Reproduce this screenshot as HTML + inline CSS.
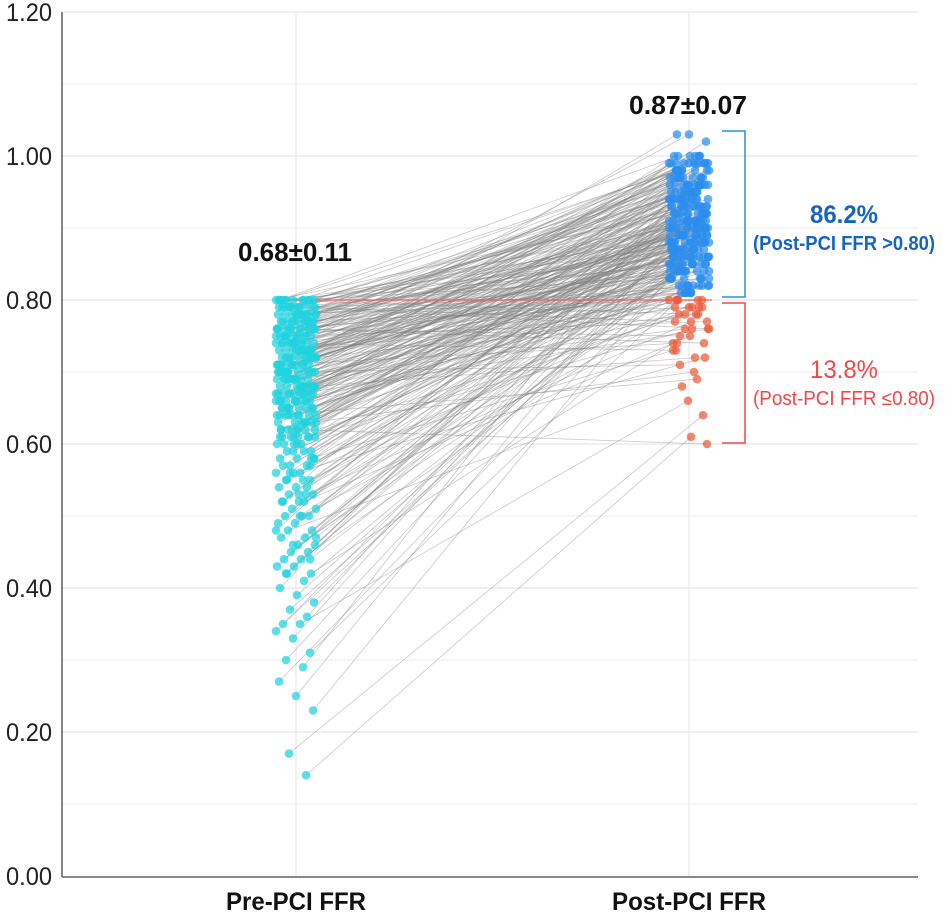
<!DOCTYPE html>
<html><head><meta charset="utf-8"><style>
html,body{margin:0;padding:0;background:#fff;}
svg{display:block;font-family:"Liberation Sans Narrow","Liberation Sans",sans-serif;}
</style></head><body>
<svg id="chart" width="945" height="924" viewBox="0 0 945 924" xmlns="http://www.w3.org/2000/svg">
<g id="grid"></g>
<g id="lines"></g>
<g id="dots"></g>
<g id="axes"></g>
<text x="295" y="261" text-anchor="middle" font-size="26" font-weight="bold" fill="#111" textLength="114" lengthAdjust="spacingAndGlyphs">0.68±0.11</text>
<text x="688" y="114" text-anchor="middle" font-size="26" font-weight="bold" fill="#111" textLength="118" lengthAdjust="spacingAndGlyphs">0.87±0.07</text>
<path d="M722 131 H745 V297 H722" fill="none" stroke="#2a8fe0" stroke-width="1.5"/>
<path d="M722 303 H745 V443 H722" fill="none" stroke="#f04848" stroke-width="1.5"/>
<text x="844" y="223" text-anchor="middle" font-size="25" font-weight="bold" fill="#1565c0" textLength="68" lengthAdjust="spacingAndGlyphs">86.2%</text>
<text x="844" y="250" text-anchor="middle" font-size="20" font-weight="bold" fill="#1565c0" textLength="182" lengthAdjust="spacingAndGlyphs">(Post-PCI FFR &gt;0.80)</text>
<text x="844" y="378" text-anchor="middle" font-size="25" fill="#f04848" textLength="68" lengthAdjust="spacingAndGlyphs">13.8%</text>
<text x="844" y="405" text-anchor="middle" font-size="20" fill="#f04848" textLength="182" lengthAdjust="spacingAndGlyphs">(Post-PCI FFR ≤0.80)</text>
</svg>
<script>
const categories = ["Pre-PCI FFR", "Post-PCI FFR"];
const yTicks = [0, 0.2, 0.4, 0.6, 0.8, 1.0, 1.2];
const yTickLabels = ["0.00", "0.20", "0.40", "0.60", "0.80", "1.00", "1.20"];
const threshold = 0.80;
const preFFR = [
0.80,0.80,0.80,0.80,0.80,0.80,0.79,0.79,0.79,0.79,
0.79,0.79,0.78,0.78,0.78,0.78,0.78,0.78,0.77,0.77,
0.77,0.77,0.77,0.77,0.76,0.76,0.76,0.76,0.76,0.76,
0.75,0.75,0.75,0.75,0.75,0.75,0.74,0.74,0.74,0.74,
0.74,0.74,0.73,0.73,0.73,0.73,0.73,0.73,0.72,0.72,
0.72,0.72,0.72,0.72,0.71,0.71,0.71,0.71,0.71,0.71,
0.70,0.70,0.70,0.70,0.70,0.70,0.69,0.69,0.69,0.69,
0.69,0.69,0.68,0.68,0.68,0.68,0.68,0.68,0.67,0.67,
0.67,0.67,0.67,0.67,0.66,0.66,0.66,0.66,0.66,0.65,
0.65,0.65,0.65,0.65,0.64,0.64,0.64,0.64,0.63,0.63,
0.63,0.63,0.62,0.62,0.62,0.62,0.61,0.61,0.61,0.60,
0.60,0.60,0.60,0.59,0.59,0.59,0.58,0.58,0.58,0.57,
0.57,0.57,0.56,0.56,0.56,0.55,0.55,0.55,0.54,0.54,
0.53,0.53,0.53,0.52,0.52,0.51,0.51,0.50,0.50,0.50,
0.49,0.49,0.48,0.48,0.47,0.47,0.46,0.46,0.45,0.45,
0.44,0.44,0.43,0.43,0.42,0.42,0.41,0.40,0.39,0.38,
0.37,0.36,0.35,0.35,0.34,0.33,0.31,0.30,0.29,0.27,
0.25,0.23,0.17,0.14,0.80,0.79,0.78,0.77,0.76,0.75,
0.74,0.70,0.66,0.73,0.69,0.77,0.71,0.75,0.68,0.72,
0.80,0.79,0.78,0.76,0.74,0.72,0.70,0.67,0.64,0.62,
0.80,0.79,0.78,0.77,0.76,0.75,0.74,0.73,0.72,0.71,
0.70,0.69,0.68,0.67,0.66,0.65,0.64,0.63,0.62,0.61,
0.80,0.78,0.76,0.74,0.72,0.70,0.68,0.66,0.64,0.62,
0.79,0.77,0.75,0.73,0.71,0.69,0.67,0.65,0.63,0.61,
0.60,0.58,0.56,0.54,0.52,0.50,0.48,0.46,0.44,0.42,
0.80,0.79,0.78,0.77,0.76,0.75,0.74,0.73,0.72,0.71,
0.70,0.69,0.68,0.67,0.66,0.65,0.64,0.63,0.62,0.61,
0.79,0.76,0.73,0.70,0.67,0.64,0.61,0.58,0.55,0.52,
0.80,0.78,0.76,0.74,0.72,0.70,0.68,0.66,0.59,0.57,
0.75,0.73,0.71,0.69,0.67,0.65,0.63,0.61,0.53,0.47];
const postFFR = [
0.92,0.88,0.95,0.86,0.90,0.78,0.93,0.85,0.97,0.81,
0.89,0.76,0.91,0.87,0.94,0.83,0.99,0.80,0.90,0.86,
0.93,0.84,0.79,0.96,0.88,0.92,0.85,0.75,0.98,0.91,
0.87,0.94,0.82,1.00,0.89,0.77,0.90,0.86,0.95,0.83,
0.92,0.73,0.88,0.97,0.84,0.91,0.80,0.93,0.86,0.90,
0.95,0.82,0.99,0.78,0.89,0.93,0.85,0.96,0.74,0.91,
0.88,0.94,0.83,1.00,0.90,0.79,0.92,0.87,0.97,0.84,
0.90,0.76,0.86,0.93,0.81,0.98,0.89,0.72,0.94,0.88,
0.91,0.82,0.99,0.85,0.87,0.93,0.80,0.96,0.89,0.92,
0.86,0.95,0.78,0.90,0.94,0.83,0.88,0.97,0.91,0.85,
0.93,0.70,0.89,0.96,0.82,0.91,0.87,0.99,0.76,0.92,
0.88,0.95,0.84,0.90,0.79,0.94,0.86,0.92,0.98,0.89,
0.83,0.96,0.91,0.87,0.72,0.93,0.85,0.99,0.90,0.81,
0.94,0.88,0.77,0.92,0.86,0.95,0.84,0.90,0.97,0.79,
0.91,0.85,0.93,0.68,0.89,0.96,0.82,0.92,0.87,0.94,
0.90,0.83,0.95,0.88,0.74,0.92,0.86,0.97,0.89,0.91,
0.85,0.93,0.88,0.66,0.90,0.96,0.82,0.89,0.94,0.87,
0.91,0.84,0.64,0.61,0.98,0.94,0.99,0.95,0.88,0.96,
1.03,1.03,1.02,0.99,0.98,0.97,1.00,0.96,0.95,0.99,
0.85,0.87,0.82,0.84,0.81,0.86,0.83,0.88,0.80,0.60,
0.96,0.91,0.87,0.93,0.82,0.98,0.90,0.85,0.95,0.88,
0.92,0.84,0.97,0.89,0.81,0.94,0.86,0.91,0.99,0.83,
0.89,0.95,0.80,0.92,0.87,0.98,0.85,0.93,0.90,0.96,
0.84,0.90,0.97,0.86,0.94,0.81,0.91,0.88,0.95,0.87,
0.93,0.88,0.96,0.83,0.91,0.86,0.98,0.90,0.85,0.94,
0.83,0.99,0.94,0.88,0.91,0.86,0.97,0.82,0.89,0.93,
0.87,0.96,0.91,0.84,0.99,0.89,0.82,0.94,0.86,0.92,
0.77,0.74,0.79,0.71,0.76,0.69,0.78,0.73,0.80,0.75,
1.00,0.98,1.00,0.97,0.99,1.00,0.96,0.98,0.92,0.87,
0.81,0.85,0.90,0.95,1.00,0.92,0.88,0.84,0.96,0.89];

const NS = "http://www.w3.org/2000/svg";
const y = v => 876 - 720 * v;
const xCat = i => [296, 689][i];
function mk(tag, attrs, parent) {
  const el = document.createElementNS(NS, tag);
  for (const k in attrs) el.setAttribute(k, attrs[k]);
  parent.appendChild(el);
  return el;
}
const grid = document.getElementById("grid");
for (let k = 1; k <= 12; k++) {
  const gl = mk("line", {x1: 62, x2: 918, y1: y(k / 10), y2: y(k / 10), stroke: k % 2 ? "#f1f1f1" : "#e6e6e6", "stroke-width": 1.2}, grid);
  
  
}
categories.forEach((c, i) => {
  const gl = mk("line", {x1: xCat(i), x2: xCat(i), y1: 12, y2: 876, stroke: "#e8e8e8", "stroke-width": 1.2}, grid);
  
  
});
const lines = document.getElementById("lines");
const dots = document.getElementById("dots");
const jx = i => ((i * 17) % 41) - 20;
const jx2 = i => ((i * 29 + 7) % 41) - 20;
preFFR.forEach((p, i) => {
  const q = postFFR[i];
  const ln = mk("line", {x1: xCat(0) + jx(i), y1: y(p), x2: xCat(1) + jx2(i), y2: y(q), stroke: "#7d7d7d", "stroke-opacity": 0.42, "stroke-width": 0.8}, lines);
  
  
});
const thr = mk("line", {x1: 275, x2: 712, y1: y(threshold), y2: y(threshold), stroke: "#f06060", "stroke-width": 1.3}, lines);


preFFR.forEach((p, i) => {
  const d = mk("circle", {cx: xCat(0) + jx(i), cy: y(p), r: 4.3, fill: "#1ed3df", "fill-opacity": 0.72}, dots);
  
  
});
postFFR.forEach((q, i) => {
  const d = mk("circle", {cx: xCat(1) + jx2(i), cy: y(q), r: 4.3, fill: q > threshold ? "#2b8ded" : "#ec5a3c", "fill-opacity": 0.72}, dots);
  
  
});
const axes = document.getElementById("axes");
const ya = mk("line", {x1: 62, x2: 62, y1: 12, y2: 877, stroke: "#444", "stroke-width": 1.3}, axes);


const xa = mk("line", {x1: 62, x2: 918, y1: 877, y2: 877, stroke: "#444", "stroke-width": 1.3}, axes);


yTicks.forEach((t, i) => {
  const tx = mk("text", {x: 52, y: y(t) + 9, "text-anchor": "end", "font-size": 25, fill: "#222", textLength: 46, lengthAdjust: "spacingAndGlyphs"}, axes);
  tx.textContent = yTickLabels[i];
  
  
});
categories.forEach((c, i) => {
  const tx = mk("text", {x: xCat(i), y: 910, "text-anchor": "middle", "font-size": 25, "font-weight": "bold", fill: "#111", textLength: i ? 154 : 140, lengthAdjust: "spacingAndGlyphs"}, axes);
  tx.textContent = c;
  
  
});
</script>
</body></html>
